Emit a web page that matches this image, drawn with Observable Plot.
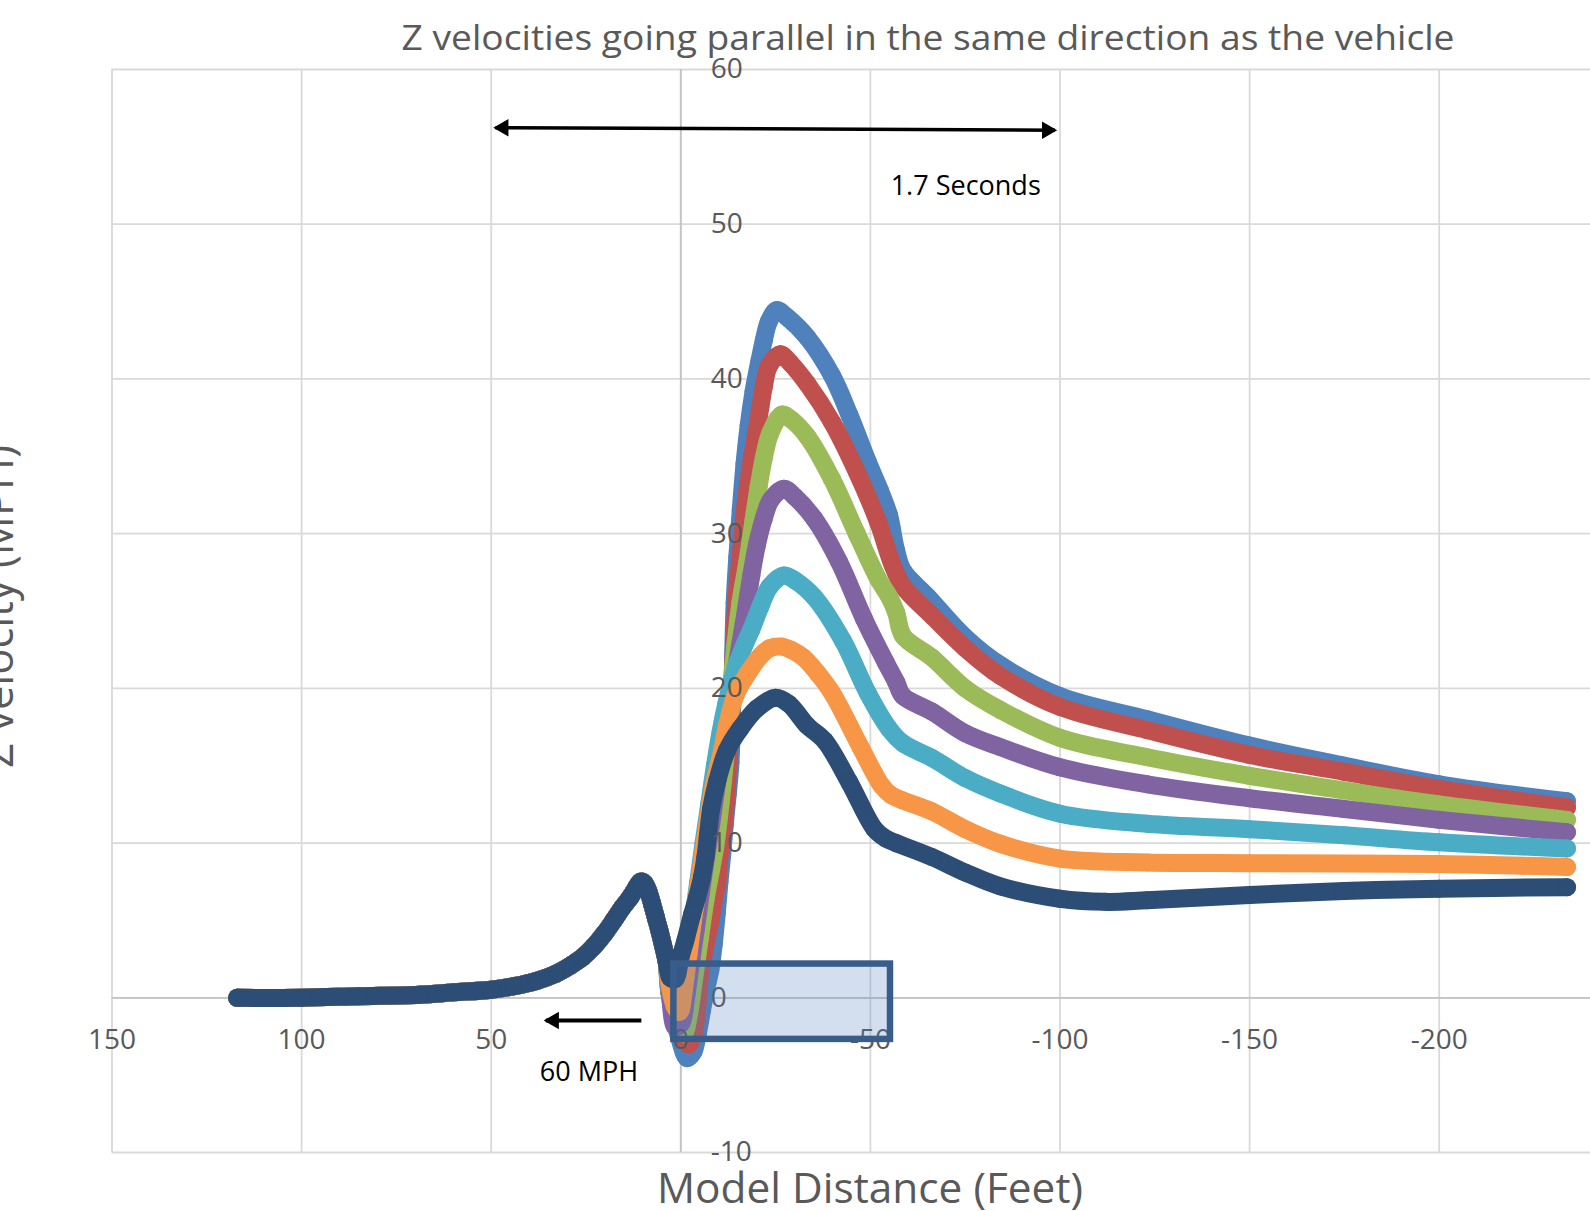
<!DOCTYPE html>
<html>
<head>
<meta charset="utf-8">
<script src="https://cdn.jsdelivr.net/npm/d3@7"></script>
<script src="https://cdn.jsdelivr.net/npm/@observablehq/plot@0.6"></script>
<style>
html, body { margin: 0; padding: 0; background: #fff; overflow: hidden; }
#chart svg { display: block; max-width: none; }
</style>
</head>
<body>
<div id="chart"></div>
<script>
// ---------- data ----------
const seriesNames = ["S1", "S2", "S3", "S4", "S5", "S6", "S7"];
const seriesColors = ["#4f81bd", "#c0504d", "#9bbb59", "#8064a2", "#4bacc6", "#f79646", "#2c4d75"];

const xTicks = [150, 100, 50, 0, -50, -100, -150, -200];
const xTickLabels = ["150", "100", "50", "0", "-50", "-100", "-150", "-200"];
const yTicks = [60, 50, 40, 30, 20, 10, 0, -10];
const yTickLabels = ["60", "50", "40", "30", "20", "10", "0", "-10"];

// shared approach segment (all series coincide here)
const lead = [[117, 0], [100, 0], [85, 0.1], [69, 0.2], [60, 0.35], [50, 0.52], [44, 0.75], [38, 1.1],
  [33, 1.55], [29, 2.1], [26, 2.6], [23, 3.3], [20, 4.2], [17.7, 5.0], [15.5, 5.8], [13.3, 6.5],
  [11.8, 7.1], [10.6, 7.5], [9.6, 7.4], [8.6, 6.9], [7.6, 6.1], [6.6, 5.2], [5.6, 4.3], [4.6, 3.3], [3.7, 2.3]];

const s1 = [[3.0, 0.3], [0.5, -2.5], [-1.7, -3.9], [-3.3, -3.5], [-4.5, -2.3], [-5.6, -0.8], [-6.7, 0.6],
  [-7.8, 1.8], [-8.7, 3.5], [-9.5, 5.5], [-10.2, 7.5], [-10.9, 9.2], [-11.6, 11.2], [-12.4, 13.2],
  [-13.1, 15.2], [-13.5, 18.5], [-13.8, 22], [-14.2, 25.5], [-14.9, 28.5], [-15.8, 31.5], [-16.8, 34.5],
  [-17.9, 37.0], [-19.2, 39.2], [-20.6, 41.0], [-21.9, 42.5], [-23.2, 43.7], [-25.3, 44.45], [-28, 44.0],
  [-33.3, 42.7], [-39.9, 40.2], [-44.5, 37.65], [-49.3, 34.65], [-52.5, 32.8], [-54.9, 31.2], [-56.8, 28.9],
  [-58.6, 27.6], [-65.2, 25.9], [-75, 23.3], [-84.3, 21.5], [-100, 19.5], [-123, 18.0], [-150, 16.3],
  [-175, 15.0], [-200, 13.8], [-233.7, 12.7]];

const s2 = [[3.0, 0.4], [0, -2.0], [-2.1, -3.0], [-3.4, -2.3], [-3.9, -1.5], [-4.3, -0.6], [-4.7, 0.5],
  [-5.2, 1.65], [-6.0, 2.8], [-6.9, 3.9], [-7.8, 5.0], [-8.7, 6.3], [-9.6, 7.4], [-10.0, 8.7], [-10.9, 10.2],
  [-11.8, 12.5], [-12.6, 15.5], [-13.4, 19], [-14.0, 22.5], [-14.8, 26.1], [-16, 29], [-17.0, 31.7],
  [-18.4, 34.3], [-19.7, 36.2], [-21.0, 38.2], [-21.9, 39.5], [-23.2, 40.8], [-26.2, 41.6], [-29, 41.0],
  [-33.3, 39.7], [-39.9, 37.2], [-46.4, 34.0], [-52.1, 30.7], [-55.8, 28.0], [-58.6, 26.6], [-66.2, 24.7],
  [-75, 22.6], [-84.3, 20.8], [-100, 18.8], [-123, 17.3], [-150, 15.7], [-175, 14.6], [-200, 13.5],
  [-233.7, 12.3]];

const s3 = [[3.0, 0.5], [1.0, -1.8], [-0.8, -2.3], [-2.2, -1.0], [-3.5, 1.2], [-5, 3.8], [-6.5, 6.3],
  [-8, 8.3], [-9.1, 9.8], [-10.5, 12.6], [-12, 16.2], [-13.2, 19.8], [-14.4, 22.8], [-15.7, 25.5],
  [-17.5, 28.1], [-19.2, 30.9], [-20.5, 33.0], [-21.9, 34.9], [-23.6, 36.5], [-26.7, 37.7], [-29, 37.4],
  [-33.3, 36.3], [-39.9, 33.5], [-46.4, 30.0], [-52.1, 27.05], [-55, 25.9], [-56.8, 24.9], [-58.6, 23.4],
  [-66.2, 22.0], [-75, 20.0], [-84.3, 18.6], [-100, 16.8], [-123, 15.55], [-150, 14.35], [-175, 13.4],
  [-200, 12.5], [-233.7, 11.5]];

const s4 = [[3.0, 0.6], [1.4, -1.9], [-0.2, -1.6], [-1.5, 0.2], [-2.8, 2.5], [-4, 4.5], [-5.3, 6.8],
  [-6.6, 9.0], [-8, 11.2], [-9.5, 13.8], [-11, 16.2], [-12.8, 18.7], [-14.6, 21.3], [-16.6, 24.2],
  [-18.6, 27.3], [-20.1, 29.3], [-21.9, 31.0], [-23.8, 32.2], [-27.2, 32.9], [-30, 32.4], [-35.2, 30.96],
  [-41.7, 28.2], [-48.3, 24.5], [-54.0, 21.7], [-56.8, 20.4], [-58.6, 19.5], [-66.2, 18.5], [-75, 17.1],
  [-84.3, 16.2], [-100, 14.9], [-123, 13.8], [-150, 12.9], [-175, 12.2], [-200, 11.5], [-233.7, 10.7]];

const s5 = [[3.0, 0.8], [1.5, -0.5], [0.5, -0.9], [-0.7, 0.3], [-2, 2.8], [-3.3, 5.2], [-4.6, 7.5],
  [-6, 10], [-7.5, 12.5], [-9, 15], [-10.5, 17.2], [-12, 19.0], [-13.5, 20.5], [-15, 21.7], [-16.8, 22.8],
  [-18.6, 23.8], [-21, 25.3], [-23.5, 26.6], [-27.2, 27.3], [-30, 27.0], [-35.2, 25.9], [-42.7, 23.1],
  [-49.3, 19.7], [-54.9, 17.4], [-58.6, 16.45], [-66.2, 15.5], [-75, 14.2], [-84.3, 13.2], [-100, 11.9],
  [-123, 11.25], [-150, 10.9], [-175, 10.5], [-200, 10.05], [-233.7, 9.65]];

const s6 = [[3.0, 1.0], [1.5, -0.6], [0.3, -0.9], [-0.8, 0.6], [-2, 2.8], [-3.2, 5.0], [-4.5, 7.0],
  [-5.8, 9.2], [-7, 11.2], [-8.5, 13.5], [-10.9, 16.0], [-12.2, 17.6], [-14.5, 19.6], [-17.5, 20.9],
  [-21, 22.1], [-23.5, 22.6], [-26.7, 22.7], [-29, 22.5], [-32.3, 22.0], [-36, 21.0], [-39.9, 19.7],
  [-47.4, 16.2], [-53.0, 13.7], [-55.5, 13.1], [-58.6, 12.75], [-66.2, 12.05], [-75, 10.9], [-84.3, 9.95],
  [-100, 9.0], [-123, 8.75], [-150, 8.7], [-200, 8.65], [-233.7, 8.45]];

const s7 = [[2.8, 1.3], [1.5, 1.2], [0.1, 2.6], [-1.2, 3.7], [-3.0, 5.4], [-4.3, 6.5], [-5.6, 7.8],
  [-6.5, 9.1], [-7.2, 10.6], [-8, 12.2], [-9.6, 14.0], [-12.2, 16.0], [-15.7, 17.4], [-20.1, 18.7],
  [-25, 19.4], [-28.5, 19.0], [-33.3, 17.6], [-38.0, 16.6], [-44.5, 13.9], [-51.1, 10.9], [-54, 10.3],
  [-56.8, 10.0], [-66.2, 9.1], [-75, 8.1], [-84.3, 7.2], [-100, 6.4], [-112, 6.2], [-123, 6.3],
  [-150, 6.65], [-175, 6.9], [-200, 7.05], [-233.7, 7.15]];

const seriesPoints = [s1, s2, s3, s4, s5, s6, s7];

// annotations (data units)
const spanArrow = [{x1: 48.9, y1: 56.24, x2: -98.7, y2: 56.08}];
const speedArrow = [{x1: 10.4, y1: -1.47, x2: 35.6, y2: -1.47}];
const notes = [
  {x: -55.35, y: 52.45, text: "1.7 Seconds"},
  {x: 37.2, y: -4.85, text: "60 MPH"}
];
const boxes = [{x1: 1.82, x2: -55.3, y1: -2.69, y2: 2.18}];

// ---------- chart ----------
const X0 = 150, X1 = -239.9;
const gridColor = "#d9d9d9";
const textColor = "#595959";

const marks = [
  Plot.ruleX(xTicks, {y1: -10, y2: 60, stroke: gridColor, strokeWidth: 1.8}),
  Plot.ruleY(yTicks, {x1: X0, x2: X1, stroke: gridColor, strokeWidth: 1.8}),
  Plot.ruleX([0], {y1: -10, y2: 60, stroke: "#c4c4c4", strokeWidth: 1.8}),
  Plot.ruleY([0], {x1: X0, x2: X1, stroke: "#c4c4c4", strokeWidth: 1.8})
];

seriesNames.forEach((name, i) => {
  const rows = lead.concat(seriesPoints[i]).map(([x, y]) => ({series: name, x, y}));
  marks.push(
    Plot.line(rows, {x: "x", y: "y", stroke: seriesColors[i], strokeWidth: 18,
      curve: "catmull-rom", strokeLinecap: "round", strokeLinejoin: "round"}),
    Plot.dot(rows, {x: "x", y: "y", fill: seriesColors[i], r: 9, stroke: "none"})
  );
});

marks.push(
  Plot.text(yTicks, {x: 0, y: d => d, text: (d, i) => yTickLabels[i], dx: 30, textAnchor: "start",
    fontSize: 28, fill: textColor}),
  Plot.text(xTicks, {x: d => d, y: 0, text: (d, i) => xTickLabels[i], dy: 42,
    fontSize: 28, fill: textColor}),
  // double-headed span arrow
  Plot.link(spanArrow, {x1: "x1", y1: "y1", x2: "x2", y2: "y2", stroke: "black", strokeWidth: 3.5}),
  Plot.dot(spanArrow, {x: "x1", y: "y1", symbol: "triangle", r: 6.5, fill: "black", rotate: -90, dx: 8}),
  Plot.dot(spanArrow, {x: "x2", y: "y2", symbol: "triangle", r: 6.5, fill: "black", rotate: 90, dx: -8}),
  // speed arrow
  Plot.link(speedArrow, {x1: "x1", y1: "y1", x2: "x2", y2: "y2", stroke: "black", strokeWidth: 4}),
  Plot.dot(speedArrow, {x: "x2", y: "y2", symbol: "triangle", r: 6.5, fill: "black", rotate: -90, dx: 8}),
  Plot.text(notes, {x: "x", y: "y", text: "text", textAnchor: "start", fontSize: 27, fill: "black"}),
  Plot.rect(boxes, {x1: "x1", x2: "x2", y1: "y1", y2: "y2", fill: "#4f81bd", fillOpacity: 0.25,
    stroke: "#385d8a", strokeWidth: 6.5})
);

const chart = Plot.plot({
  width: 1590,
  height: 1211,
  marginLeft: 111.5,
  marginRight: 0,
  marginTop: 69,
  marginBottom: 59,
  x: {domain: [X0, X1], axis: null},
  y: {domain: [-10, 60], axis: null},
  style: {background: "white", fontFamily: "'Open Sans', sans-serif", maxWidth: "none"},
  marks
});

const svg = d3.select(chart);
svg.append("text")
  .attr("x", 928).attr("y", 50)
  .attr("text-anchor", "middle")
  .attr("font-size", 35).attr("fill", textColor)
  .attr("textLength", 1053).attr("lengthAdjust", "spacingAndGlyphs")
  .text("Z velocities going parallel in the same direction as the vehicle");
svg.append("text")
  .attr("x", 870).attr("y", 1203)
  .attr("text-anchor", "middle")
  .attr("font-size", 42).attr("fill", textColor)
  .attr("textLength", 426).attr("lengthAdjust", "spacingAndGlyphs")
  .text("Model Distance (Feet)");
svg.append("text")
  .attr("transform", "translate(13,606.5) rotate(-90)")
  .attr("text-anchor", "middle")
  .attr("font-size", 43).attr("fill", textColor)
  .attr("textLength", 323).attr("lengthAdjust", "spacingAndGlyphs")
  .text("Z velocity (MPH)");

document.getElementById("chart").appendChild(chart);
</script>
</body>
</html>
